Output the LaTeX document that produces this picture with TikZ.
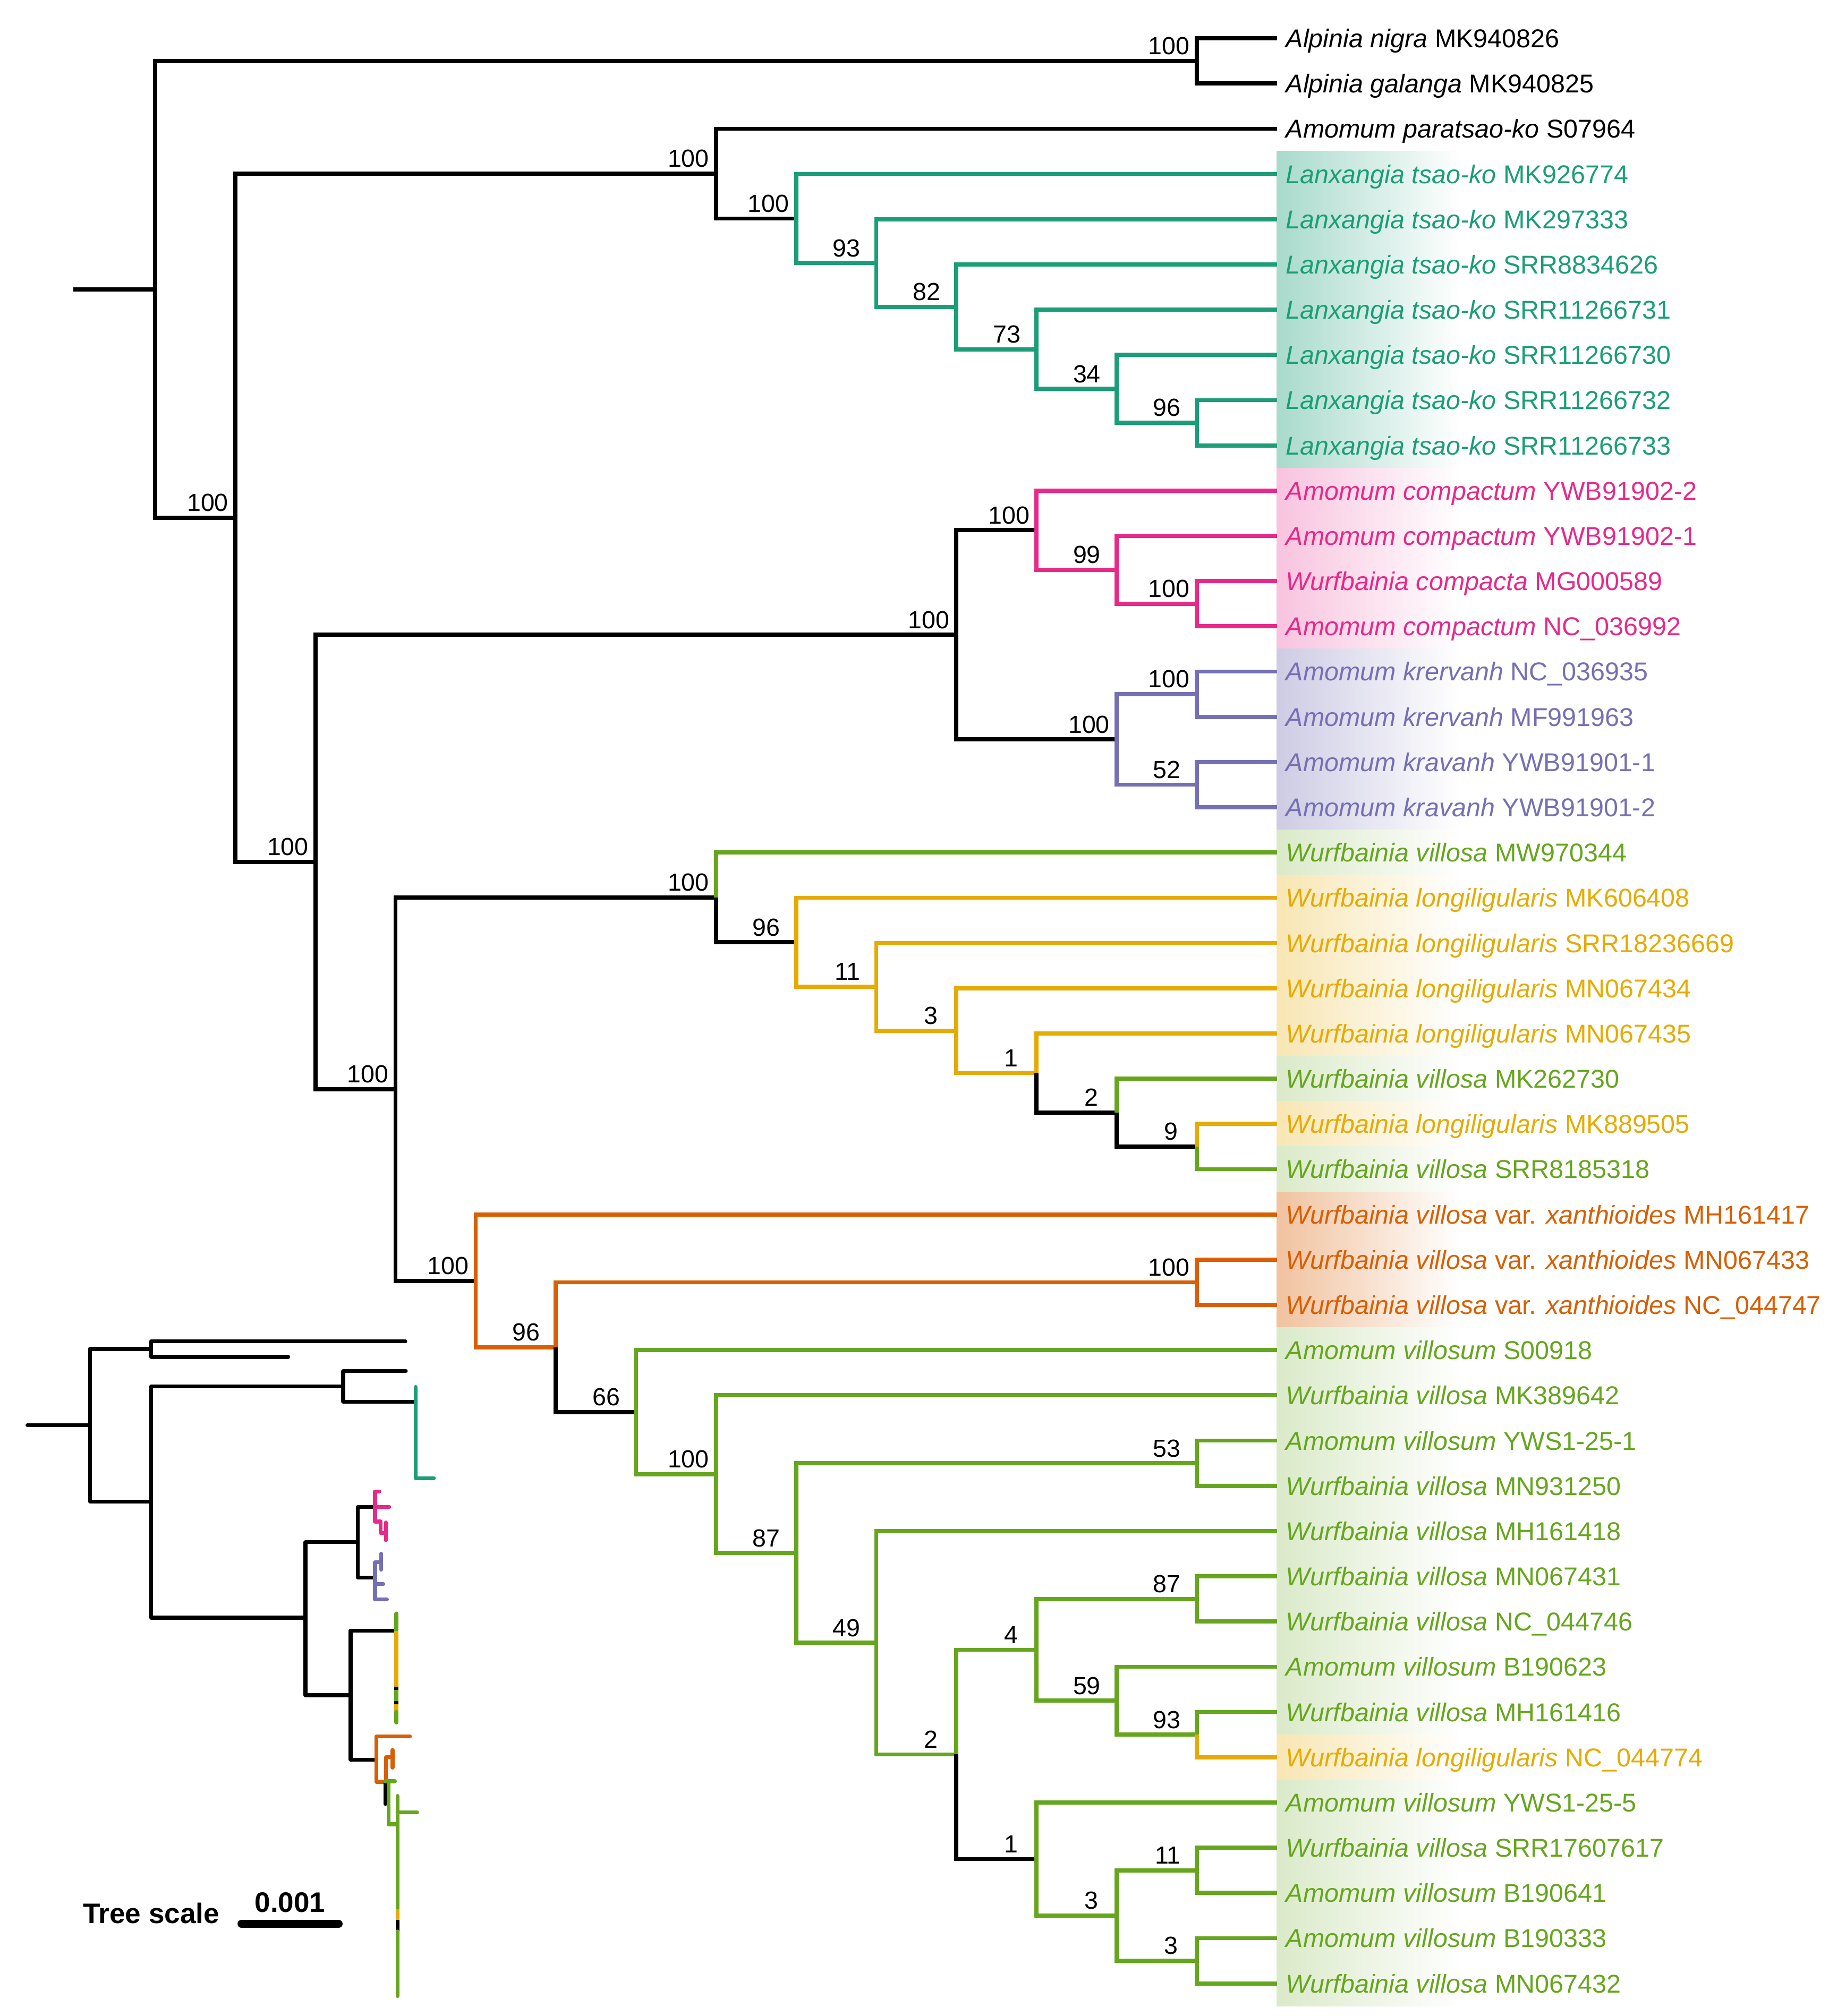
\documentclass[tikz,border=0pt]{standalone}
\usepackage{fontspec}
\setmainfont{Liberation Sans}
\usetikzlibrary{calc}
\definecolor{cTeal}{HTML}{1B9E77}
\definecolor{cOrange}{HTML}{D95F02}
\definecolor{cPurple}{HTML}{7570B3}
\definecolor{cPink}{HTML}{E7298A}
\definecolor{cGreen}{HTML}{66A61E}
\definecolor{cYellow}{HTML}{E6AB02}
\tikzset{
  brl/.style={line width=1.6pt},
  ibr/.style={line width=1.5pt, line cap=round, line join=round},
  leaflab/.style={font=\fontsize{10}{12}\selectfont, inner sep=0pt, anchor=base west},
  bslab/.style={font=\fontsize{9.6}{11}\selectfont, inner sep=0pt, anchor=base east},
  scalelab/.style={font=\bfseries\fontsize{10.95}{13}\selectfont, inner sep=0pt}
}
\newcommand\tnode[4]{\coordinate (#1) at ($(X#2|-#3)!.5!(X#2|-#4)$);}
\newcommand\brn[3]{\draw[brl,#1] (#2) |- (#3);}
% bootstrap value: 3-digit, 2-digit and 1-digit placements
\newcommand\bsv[2]{\node[bslab] (b#1) at ($(#1)+(-5,-5)$) {#2};}
\newcommand\bsw[2]{\node[bslab] (b#1) at ($(#1)+(-12,-5)$) {#2};}
\newcommand\bsx[2]{\node[bslab] (b#1) at ($(#1)+(-14,-5)$) {#2};}
\newcommand\leaflabel[3]{\node[leaflab,text=#2] (L#1) at ($(t#1)+(6.7,7.2)$) {#3};}
\newcommand\hlbox[3]{\shade[left color=#1,right color=white] ($(t#2)+(0,-17.56)$) rectangle ($(t#3)+(142.7,17.56)$);}
\begin{document}
\begin{tikzpicture}[x=0.5pt,y=-0.5pt]
\fill[white] (0,0) rectangle (1420,1565.6);
\useasboundingbox (0,0) rectangle (1420,1565.6);
% levels and tips
\foreach \k in {1,...,15} \coordinate (X\k) at ({120.5+62.2*(\k-1)},0);
\foreach \i in {1,...,44} \coordinate (t\i) at (991.3,{29.7+35.13*(\i-1)});
% highlight boxes
\hlbox{cTeal!38}{4}{10}
\hlbox{cPink!28}{11}{14}
\hlbox{cPurple!36}{15}{18}
\hlbox{cGreen!24}{19}{19}
\hlbox{cYellow!30}{20}{23}
\hlbox{cGreen!24}{24}{24}
\hlbox{cYellow!30}{25}{25}
\hlbox{cGreen!24}{26}{26}
\hlbox{cOrange!38}{27}{29}
\hlbox{cGreen!24}{30}{38}
\hlbox{cYellow!30}{39}{39}
\hlbox{cGreen!24}{40}{44}
% internal nodes (bottom-up)
\tnode{alp}{14}{t1}{t2}
\tnode{tk6}{14}{t9}{t10}
\tnode{tk5}{13}{t8}{tk6}
\tnode{tk4}{12}{t7}{tk5}
\tnode{tk3}{11}{t6}{tk4}
\tnode{tk2}{10}{t5}{tk3}
\tnode{tk1}{9}{t4}{tk2}
\tnode{B}{8}{t3}{tk1}
\tnode{pc3}{14}{t13}{t14}
\tnode{pc2}{13}{t12}{pc3}
\tnode{pc1}{12}{t11}{pc2}
\tnode{kr1}{14}{t15}{t16}
\tnode{kr2}{14}{t17}{t18}
\tnode{kr}{13}{kr1}{kr2}
\tnode{D}{11}{pc1}{kr}
\tnode{f6}{14}{t25}{t26}
\tnode{f5}{13}{t24}{f6}
\tnode{f4}{12}{t23}{f5}
\tnode{f3}{11}{t22}{f4}
\tnode{f2}{10}{t21}{f3}
\tnode{f1}{9}{t20}{f2}
\tnode{F}{8}{t19}{f1}
\tnode{xa}{14}{t28}{t29}
\tnode{h2a}{14}{t32}{t33}
\tnode{h5a}{14}{t35}{t36}
\tnode{h5c}{14}{t38}{t39}
\tnode{h5b}{13}{t37}{h5c}
\tnode{h5}{12}{h5a}{h5b}
\tnode{h6b}{14}{t41}{t42}
\tnode{h6c}{14}{t43}{t44}
\tnode{h6a}{13}{h6b}{h6c}
\tnode{h6}{12}{t40}{h6a}
\tnode{h4}{11}{h5}{h6}
\tnode{h3}{10}{t34}{h4}
\tnode{h2}{9}{h2a}{h3}
\tnode{h1}{8}{t31}{h2}
\tnode{H}{7}{t30}{h1}
\tnode{G1}{6}{xa}{H}
\tnode{G}{5}{t27}{G1}
\tnode{E}{4}{F}{G}
\tnode{C}{3}{D}{E}
\tnode{A}{2}{B}{C}
\tnode{R}{1}{alp}{A}
\coordinate (r0) at (57,0 |- R);
% branches
\draw[brl] (r0) -- (R);
\brn{black}{R}{alp} \brn{black}{R}{A}
\brn{black}{alp}{t1} \brn{black}{alp}{t2}
\brn{black}{A}{B} \brn{black}{B}{t3} \brn{black}{B}{tk1}
\brn{cTeal}{tk1}{t4} \brn{cTeal}{tk1}{tk2}
\brn{cTeal}{tk2}{t5} \brn{cTeal}{tk2}{tk3}
\brn{cTeal}{tk3}{t6} \brn{cTeal}{tk3}{tk4}
\brn{cTeal}{tk4}{t7} \brn{cTeal}{tk4}{tk5}
\brn{cTeal}{tk5}{t8} \brn{cTeal}{tk5}{tk6}
\brn{cTeal}{tk6}{t9} \brn{cTeal}{tk6}{t10}
\brn{black}{A}{C} \brn{black}{C}{D}
\brn{black}{D}{pc1} \brn{black}{D}{kr}
\brn{cPink}{pc1}{t11} \brn{cPink}{pc1}{pc2}
\brn{cPink}{pc2}{t12} \brn{cPink}{pc2}{pc3}
\brn{cPink}{pc3}{t13} \brn{cPink}{pc3}{t14}
\brn{cPurple}{kr}{kr1} \brn{cPurple}{kr}{kr2}
\brn{cPurple}{kr1}{t15} \brn{cPurple}{kr1}{t16}
\brn{cPurple}{kr2}{t17} \brn{cPurple}{kr2}{t18}
\brn{black}{C}{E} \brn{black}{E}{F}
\brn{cGreen}{F}{t19} \brn{black}{F}{f1}
\brn{cYellow}{f1}{t20} \brn{cYellow}{f1}{f2}
\brn{cYellow}{f2}{t21} \brn{cYellow}{f2}{f3}
\brn{cYellow}{f3}{t22} \brn{cYellow}{f3}{f4}
\brn{cYellow}{f4}{t23} \brn{black}{f4}{f5}
\brn{cGreen}{f5}{t24} \brn{black}{f5}{f6}
\brn{cYellow}{f6}{t25} \brn{cGreen}{f6}{t26}
\brn{black}{E}{G}
\brn{cOrange}{G}{t27} \brn{cOrange}{G}{G1}
\brn{cOrange}{G1}{xa} \brn{cOrange}{xa}{t28} \brn{cOrange}{xa}{t29}
\brn{black}{G1}{H}
\brn{cGreen}{H}{t30} \brn{cGreen}{H}{h1}
\brn{cGreen}{h1}{t31} \brn{cGreen}{h1}{h2}
\brn{cGreen}{h2}{h2a} \brn{cGreen}{h2a}{t32} \brn{cGreen}{h2a}{t33}
\brn{cGreen}{h2}{h3}
\brn{cGreen}{h3}{t34} \brn{cGreen}{h3}{h4}
\brn{cGreen}{h4}{h5} \brn{black}{h4}{h6}
\brn{cGreen}{h5}{h5a} \brn{cGreen}{h5a}{t35} \brn{cGreen}{h5a}{t36}
\brn{cGreen}{h5}{h5b} \brn{cGreen}{h5b}{t37} \brn{cGreen}{h5b}{h5c}
\brn{cGreen}{h5c}{t38} \brn{cYellow}{h5c}{t39}
\brn{cGreen}{h6}{t40} \brn{cGreen}{h6}{h6a}
\brn{cGreen}{h6a}{h6b} \brn{cGreen}{h6a}{h6c}
\brn{cGreen}{h6b}{t41} \brn{cGreen}{h6b}{t42}
\brn{cGreen}{h6c}{t43} \brn{cGreen}{h6c}{t44}
% bootstrap values
\bsv{alp}{100} \bsv{B}{100} \bsv{tk1}{100} \bsw{tk2}{93} \bsw{tk3}{82}
\bsw{tk4}{73} \bsw{tk5}{34} \bsw{tk6}{96} \bsv{A}{100}
\bsv{pc1}{100} \bsw{pc2}{99} \bsv{pc3}{100} \bsv{D}{100}
\bsv{kr1}{100} \bsv{kr}{100} \bsw{kr2}{52}
\bsv{C}{100} \bsv{E}{100}
\bsv{F}{100} \bsw{f1}{96} \bsw{f2}{11} \bsx{f3}{3} \bsx{f4}{1} \bsx{f5}{2} \bsx{f6}{9}
\bsv{G}{100} \bsv{xa}{100} \bsw{G1}{96} \bsw{H}{66} \bsv{h1}{100}
\bsw{h2a}{53} \bsw{h2}{87} \bsw{h3}{49} \bsw{h5a}{87} \bsx{h5}{4}
\bsw{h5b}{59} \bsw{h5c}{93} \bsx{h4}{2} \bsx{h6}{1} \bsw{h6b}{11}
\bsx{h6a}{3} \bsx{h6c}{3}
% leaf labels
\leaflabel{1}{black}{\textit{Alpinia nigra} MK940826}
\leaflabel{2}{black}{\textit{Alpinia galanga} MK940825}
\leaflabel{3}{black}{\textit{Amomum paratsao-ko} S07964}
\leaflabel{4}{cTeal}{\textit{Lanxangia tsao-ko} MK926774}
\leaflabel{5}{cTeal}{\textit{Lanxangia tsao-ko} MK297333}
\leaflabel{6}{cTeal}{\textit{Lanxangia tsao-ko} SRR8834626}
\leaflabel{7}{cTeal}{\textit{Lanxangia tsao-ko} SRR11266731}
\leaflabel{8}{cTeal}{\textit{Lanxangia tsao-ko} SRR11266730}
\leaflabel{9}{cTeal}{\textit{Lanxangia tsao-ko} SRR11266732}
\leaflabel{10}{cTeal}{\textit{Lanxangia tsao-ko} SRR11266733}
\leaflabel{11}{cPink}{\textit{Amomum compactum} YWB91902-2}
\leaflabel{12}{cPink}{\textit{Amomum compactum} YWB91902-1}
\leaflabel{13}{cPink}{\textit{Wurfbainia compacta} MG000589}
\leaflabel{14}{cPink}{\textit{Amomum compactum} NC\_036992}
\leaflabel{15}{cPurple}{\textit{Amomum krervanh} NC\_036935}
\leaflabel{16}{cPurple}{\textit{Amomum krervanh} MF991963}
\leaflabel{17}{cPurple}{\textit{Amomum kravanh} YWB91901-1}
\leaflabel{18}{cPurple}{\textit{Amomum kravanh} YWB91901-2}
\leaflabel{19}{cGreen}{\textit{Wurfbainia villosa} MW970344}
\leaflabel{20}{cYellow}{\textit{Wurfbainia longiligularis} MK606408}
\leaflabel{21}{cYellow}{\textit{Wurfbainia longiligularis} SRR18236669}
\leaflabel{22}{cYellow}{\textit{Wurfbainia longiligularis} MN067434}
\leaflabel{23}{cYellow}{\textit{Wurfbainia longiligularis} MN067435}
\leaflabel{24}{cGreen}{\textit{Wurfbainia villosa} MK262730}
\leaflabel{25}{cYellow}{\textit{Wurfbainia longiligularis} MK889505}
\leaflabel{26}{cGreen}{\textit{Wurfbainia villosa} SRR8185318}
\leaflabel{27}{cOrange}{\textit{Wurfbainia villosa} var. \textit{xanthioides} MH161417}
\leaflabel{28}{cOrange}{\textit{Wurfbainia villosa} var. \textit{xanthioides} MN067433}
\leaflabel{29}{cOrange}{\textit{Wurfbainia villosa} var. \textit{xanthioides} NC\_044747}
\leaflabel{30}{cGreen}{\textit{Amomum villosum} S00918}
\leaflabel{31}{cGreen}{\textit{Wurfbainia villosa} MK389642}
\leaflabel{32}{cGreen}{\textit{Amomum villosum} YWS1-25-1}
\leaflabel{33}{cGreen}{\textit{Wurfbainia villosa} MN931250}
\leaflabel{34}{cGreen}{\textit{Wurfbainia villosa} MH161418}
\leaflabel{35}{cGreen}{\textit{Wurfbainia villosa} MN067431}
\leaflabel{36}{cGreen}{\textit{Wurfbainia villosa} NC\_044746}
\leaflabel{37}{cGreen}{\textit{Amomum villosum} B190623}
\leaflabel{38}{cGreen}{\textit{Wurfbainia villosa} MH161416}
\leaflabel{39}{cYellow}{\textit{Wurfbainia longiligularis} NC\_044774}
\leaflabel{40}{cGreen}{\textit{Amomum villosum} YWS1-25-5}
\leaflabel{41}{cGreen}{\textit{Wurfbainia villosa} SRR17607617}
\leaflabel{42}{cGreen}{\textit{Amomum villosum} B190641}
\leaflabel{43}{cGreen}{\textit{Amomum villosum} B190333}
\leaflabel{44}{cGreen}{\textit{Wurfbainia villosa} MN067432}
% ---------- inset phylogram ----------
\coordinate (ir0) at (21.3,1106.8);
\coordinate (ir) at (69.8,1106.8);
\coordinate (ialp) at (117.2,1047.6);
\coordinate (it1) at (314.7,1041.6);
\coordinate (it2) at (223.7,1053.7);
\coordinate (iA) at (117.2,1166.1);
\coordinate (iB) at (266.4,1076.7);
\coordinate (it3) at (315.1,1064.8);
\coordinate (itk) at (322.8,1088.5);
\coordinate (iC) at (237.2,1256.3);
\coordinate (iD) at (277.7,1197.6);
\coordinate (iE) at (272.2,1316.5);
\coordinate (ipc) at (291.2,1170.3);
\coordinate (ikr) at (291.2,1225.1);
\coordinate (iF) at (307.7,1266.4);
\coordinate (iG) at (292.2,1366.7);
\draw[ibr] (ir0) -- (ir);
\draw[ibr] (ir) |- (ialp); \draw[ibr] (ir) |- (iA);
\draw[ibr] (ialp) |- (it1); \draw[ibr] (ialp) |- (it2);
\draw[ibr] (iA) |- (iB); \draw[ibr] (iB) |- (it3); \draw[ibr] (iB) |- (itk);
\draw[ibr] (iA) |- (iC); \draw[ibr] (iC) |- (iD); \draw[ibr] (iC) |- (iE);
\draw[ibr] (iD) |- (ipc); \draw[ibr] (iD) |- (ikr);
\draw[ibr] (iE) |- (iF); \draw[ibr] (iE) |- (iG);
% teal clade
\draw[ibr,cTeal] (322.8,1077.1) -- (322.8,1148.1) -- (336.8,1148.1);
% pink clade
\draw[ibr,cPink] (294.5,1158.4) -- (291.2,1158.4) -- (291.2,1181.6) -- (295.6,1181.6) -- (295.6,1190.6) -- (299.5,1190.6);
\draw[ibr,cPink] (291.2,1170.2) -- (302.2,1170.2);
\draw[ibr,cPink] (299.5,1182.3) -- (299.5,1196.1);
% purple clade
\draw[ibr,cPurple] (295.9,1206.5) -- (295.9,1213.3) -- (291.2,1213.3) -- (291.2,1242.1) -- (300.4,1242.1);
\draw[ibr,cPurple] (295.9,1213.3) -- (295.9,1219.0);
\draw[ibr,cPurple] (291.2,1230.2) -- (297.6,1230.2);
% longiligularis / villosa column
\draw[ibr,cGreen] (307.7,1253) -- (307.7,1266.4);
\draw[line width=1.5pt,cYellow] (307.7,1266.4) -- (307.7,1310);
\draw[line width=1.5pt,black] (307.7,1310) -- (307.7,1312.5);
\draw[line width=1.5pt,cGreen] (307.7,1312.5) -- (307.7,1321);
\draw[line width=1.5pt,black] (307.7,1321) -- (307.7,1323.5);
\draw[line width=1.5pt,cYellow] (307.7,1323.5) -- (307.7,1329.4);
\draw[ibr,cGreen] (307.7,1329.4) -- (307.7,1337.7);
% xanthioides clade
\draw[ibr,cOrange] (318.3,1348.5) -- (292.2,1348.5) -- (292.2,1383.7) -- (299.7,1383.7) -- (299.7,1364.5) -- (303.8,1364.5);
\draw[ibr,cOrange] (304.8,1359) -- (304.8,1372.7);
% villosum clade
\draw[ibr,black] (299.3,1385) -- (299.3,1400.9);
\draw[ibr,cGreen] (299.3,1383.3) -- (306.6,1383.3);
\draw[ibr,cGreen] (301.8,1383.3) -- (301.8,1416.7) -- (308.6,1416.7);
\draw[ibr,cGreen] (308.6,1394.7) -- (308.6,1482.7);
\draw[ibr,cGreen] (308.6,1407.5) -- (323.8,1407.5);
\draw[line width=1.5pt,cYellow] (308.6,1482.7) -- (308.6,1491);
\draw[line width=1.5pt,black] (308.6,1491) -- (308.6,1500);
\draw[ibr,cGreen] (308.6,1500) -- (308.6,1550.1);
% tree scale
\node[scalelab,anchor=base west] (tsl) at (64,1493.7) {Tree scale};
\coordinate (sb1) at (187.4,1494);
\coordinate (sb2) at (263,1494);
\draw[line width=3pt,line cap=round] (sb1) -- (sb2);
\node[scalelab,anchor=base] (tsv) at ($(sb1)!.5!(sb2)+(0,-9)$) {0.001};
\end{tikzpicture}
\end{document}
